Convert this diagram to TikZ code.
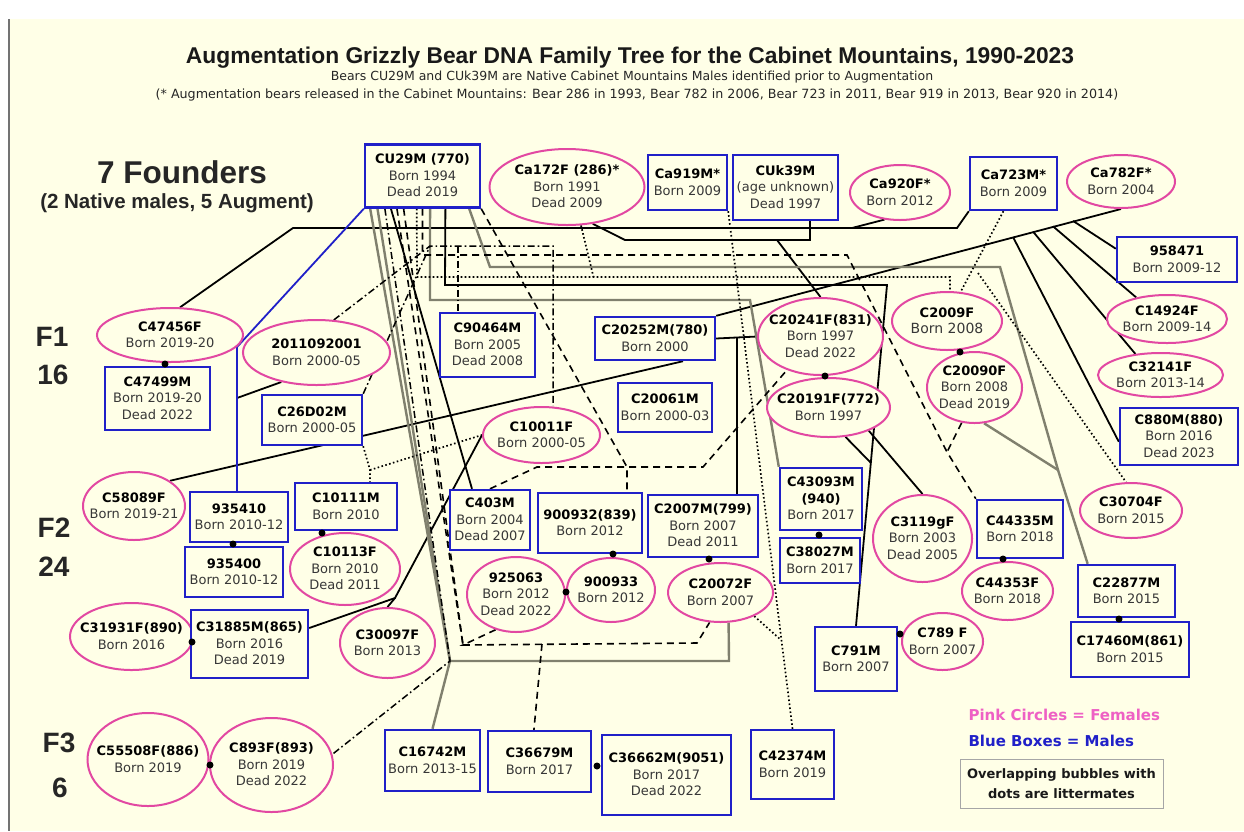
\documentclass[tikz,border=0pt]{standalone}
\usepackage{fontspec}
\setmainfont{DejaVu Sans}
\newfontfamily\arialfont{Liberation Sans}
\usetikzlibrary{shapes.geometric,backgrounds}

\definecolor{cream}{RGB}{255,255,231}
\definecolor{bearpink}{RGB}{226,72,162}
\definecolor{bearblue}{RGB}{32,32,200}
\definecolor{legendpink}{RGB}{238,96,196}
\definecolor{linegray}{RGB}{128,128,110}
\definecolor{txtgray}{RGB}{55,55,55}

% name in bold, then the dates; zero size so the shape keeps its own size
\newcommand{\bear}[2]{\smash{\makebox[0pt]{\raisebox{-4pt}{\begin{tabular}{@{}c@{}}\bfseries\color{black}#1\\#2\end{tabular}}}}}

\tikzset{
  male/.style={rectangle, draw=bearblue, line width=2.4pt, fill=cream, inner sep=0pt, text=txtgray, font=\fontsize{13}{16.5}\selectfont},
  female/.style={ellipse, draw=bearpink, line width=2pt, fill=cream, inner sep=0pt, text=txtgray, font=\fontsize{13}{16.5}\selectfont},
  kin/.style={draw=black, line width=1.8pt},
  kingray/.style={draw=linegray, line width=2.4pt},
  kindash/.style={draw=black, line width=1.6pt, dash pattern=on 7pt off 5pt},
  kindot/.style={draw=black, line width=1.7pt, dash pattern=on 1.6pt off 2.4pt},
  kindashdot/.style={draw=black, line width=1.5pt, dash pattern=on 7pt off 3pt on 1.6pt off 3pt},
  genlabel/.style={font=\arialfont\bfseries\fontsize{28}{30}\selectfont, text=black!85}
}

\begin{document}
\begin{tikzpicture}[x=1pt,y=-1pt]
  \useasboundingbox (0,0) rectangle (1244,831);

  % header
  \node[font=\arialfont\bfseries\fontsize{22.8}{26}\selectfont, text=black!90] (title) at (630,58) {Augmentation Grizzly Bear DNA Family Tree for the Cabinet Mountains, 1990-2023};
  \node[font=\fontsize{12.5}{15}\selectfont, text=black!85] (sub1) at (632,77) {Bears CU29M and CUk39M are Native Cabinet Mountains Males identified prior to Augmentation};
  \node[font=\fontsize{12.7}{15}\selectfont, text=black!85] (sub2) at (637,95) {(* Augmentation bears released in the Cabinet Mountains: Bear 286 in 1993, Bear 782 in 2006, Bear 723 in 2011, Bear 919 in 2013, Bear 920 in 2014)};
  \node[font=\arialfont\bfseries\fontsize{31.5}{33}\selectfont, text=black!85] (founders) at (182,172) {7 Founders};
  \node[font=\arialfont\bfseries\fontsize{20.5}{22}\selectfont, text=black!85] (native) at (177,203) {(2 Native males, 5 Augment)};

  \node[genlabel] (f1) at (52,337) {F1};
  \node[genlabel] (f1n) at (53,375) {16};
  \node[genlabel] (f2) at (54,528) {F2};
  \node[genlabel] (f2n) at (54,567) {24};
  \node[genlabel] (f3) at (59,743) {F3};
  \node[genlabel] (f3n) at (60,788) {6};

  % founders
  \node[male, minimum width=115pt, minimum height=63pt] (cu29m) at (422.5,176) {\bear{CU29M (770)}{Born 1994\\Dead 2019}};
  \node[female, minimum width=155pt, minimum height=76pt] (ca172f) at (567,187) {\bear{Ca172F (286)*}{Born 1991\\Dead 2009}};
  \node[male, minimum width=79pt, minimum height=55pt] (ca919m) at (687.5,182.5) {\bear{Ca919M*}{Born 2009}};
  \node[male, minimum width=105pt, minimum height=65pt] (cuk39m) at (785.5,187.5) {\bear{CUk39M}{(age unknown)\\Dead 1997}};
  \node[female, minimum width=100pt, minimum height=55pt] (ca920f) at (900,192.5) {\bear{Ca920F*}{Born 2012}};
  \node[male, minimum width=87pt, minimum height=53pt] (ca723m) at (1013.5,183.5) {\bear{Ca723M*}{Born 2009}};
  \node[female, minimum width=108pt, minimum height=53pt] (ca782f) at (1121,181.5) {\bear{Ca782F*}{Born 2004}};

  % F1
  \node[female, minimum width=146pt, minimum height=54pt] (c47456f) at (170,335) {\bear{C47456F}{Born 2019-20}};
  \node[male, minimum width=105pt, minimum height=63pt] (c47499m) at (157.5,398.5) {\bear{C47499M}{Born 2019-20\\Dead 2022}};
  \node[female, minimum width=147pt, minimum height=65pt] (n2011092001) at (316.5,352.5) {\bear{2011092001}{Born 2000-05}};
  \node[male, minimum width=100pt, minimum height=50pt] (c26d02m) at (312,420) {\bear{C26D02M}{Born 2000-05}};
  \node[male, minimum width=95pt, minimum height=64pt] (c90464m) at (487.5,345) {\bear{C90464M}{Born 2005\\Dead 2008}};
  \node[female, minimum width=117pt, minimum height=56pt] (c10011f) at (541.5,435) {\bear{C10011F}{Born 2000-05}};
  \node[male, minimum width=120pt, minimum height=43pt] (c20252m) at (655,338.5) {\bear{C20252M(780)}{Born 2000}};
  \node[male, minimum width=94pt, minimum height=49pt] (c20061m) at (665,407.5) {\bear{C20061M}{Born 2000-03}};
  \node[female, minimum width=125pt, minimum height=77pt] (c20241f) at (820.5,336.5) {\bear{C20241F(831)}{Born 1997\\Dead 2022}};
  \node[female, minimum width=123pt, minimum height=59pt] (c20191f) at (828.5,407.5) {\bear{C20191F(772)}{Born 1997}};
  \node[female, minimum width=110pt, minimum height=58pt] (c2009f) at (947,321) {\bear{C2009F}{\fontsize{14}{16.5}\selectfont Born 2008}};
  \node[female, minimum width=95pt, minimum height=71pt] (c20090f) at (974.5,387.5) {\bear{C20090F}{Born 2008\\Dead 2019}};
  \node[male, minimum width=120pt, minimum height=45pt] (n958471) at (1177,259.5) {\bear{958471}{Born 2009-12}};
  \node[female, minimum width=120pt, minimum height=48pt] (c14924f) at (1167,319) {\bear{C14924F}{Born 2009-14}};
  \node[female, minimum width=125pt, minimum height=44pt] (c32141f) at (1160.5,375) {\bear{C32141F}{Born 2013-14}};
  \node[male, minimum width=118pt, minimum height=57pt] (c880m) at (1179,436.5) {\bear{C880M(880)}{Born 2016\\Dead 2023}};

  % F2
  \node[female, minimum width=102pt, minimum height=68pt] (c58089f) at (134,506) {\bear{C58089F}{Born 2019-21}};
  \node[male, minimum width=98pt, minimum height=50pt] (n935410) at (239,517) {\bear{935410}{Born 2010-12}};
  \node[male, minimum width=98pt, minimum height=50pt] (n935400) at (234,572) {\bear{935400}{Born 2010-12}};
  \node[male, minimum width=102pt, minimum height=47pt] (c10111m) at (346,506.5) {\bear{C10111M}{Born 2010}};
  \node[female, minimum width=110pt, minimum height=72pt] (c10113f) at (345,569) {\bear{C10113F}{Born 2010\\Dead 2011}};
  \node[female, minimum width=123pt, minimum height=67pt] (c31931f) at (131.5,636.5) {\bear{C31931F(890)}{Born 2016}};
  \node[male, minimum width=117pt, minimum height=68pt] (c31885m) at (249.5,644) {\bear{C31885M(865)}{Born 2016\\Dead 2019}};
  \node[female, minimum width=95pt, minimum height=70pt] (c30097f) at (387.5,643) {\bear{C30097F}{Born 2013}};
  \node[male, minimum width=80pt, minimum height=60pt] (c403m) at (490,520) {\bear{C403M}{Born 2004\\Dead 2007}};
  \node[male, minimum width=104pt, minimum height=60pt] (n900932) at (590,523) {\bear{900932(839)}{Born 2012}};
  \node[male, minimum width=110pt, minimum height=62pt] (c2007m) at (703,526) {\bear{C2007M(799)}{Born 2007\\Dead 2011}};
  \node[female, minimum width=98pt, minimum height=75pt] (n925063) at (516,594.5) {\bear{925063}{Born 2012\\Dead 2022}};
  \node[female, minimum width=88pt, minimum height=64pt] (n900933) at (611,590) {\bear{900933}{Born 2012}};
  \node[female, minimum width=105pt, minimum height=59pt] (c20072f) at (720.5,592.5) {\bear{C20072F}{Born 2007}};
  \node[male, minimum width=82pt, minimum height=62pt] (c43093m) at (821,499) {\bear{C43093M}{\textbf{\color{black}(940)}\\Born 2017}};
  \node[male, minimum width=80pt, minimum height=45pt] (c38027m) at (820,560.5) {\bear{C38027M}{Born 2017}};
  \node[male, minimum width=82pt, minimum height=64pt] (c791m) at (856,659) {\bear{C791M}{Born 2007}};
  \node[female, minimum width=81pt, minimum height=57pt] (c789f) at (942.5,641.5) {\bear{C789 F}{Born 2007}};
  \node[female, minimum width=99pt, minimum height=87pt] (c3119gf) at (922.5,538.5) {\bear{C3119gF}{Born 2003\\Dead 2005}};
  \node[male, minimum width=86pt, minimum height=58pt] (c44335m) at (1020,529) {\bear{C44335M}{Born 2018}};
  \node[female, minimum width=91pt, minimum height=58pt] (c44353f) at (1007.5,591) {\bear{C44353F}{Born 2018}};
  \node[female, minimum width=102pt, minimum height=55pt] (c30704f) at (1131,510.5) {\bear{C30704F}{Born 2015}};
  \node[male, minimum width=97pt, minimum height=52pt] (c22877m) at (1126.5,591) {\bear{C22877M}{Born 2015}};
  \node[male, minimum width=118pt, minimum height=55pt] (c17460m) at (1130,649.5) {\bear{C17460M(861)}{Born 2015}};

  % F3
  \node[female, minimum width=121pt, minimum height=93pt] (c55508f) at (148,759.5) {\bear{C55508F(886)}{Born 2019}};
  \node[female, minimum width=123pt, minimum height=94pt] (c893f) at (271.5,765) {\bear{C893F(893)}{Born 2019\\Dead 2022}};
  \node[male, minimum width=95pt, minimum height=61pt] (c16742m) at (432.5,760.5) {\bear{C16742M}{Born 2013-15}};
  \node[male, minimum width=103pt, minimum height=61pt] (c36679m) at (539.5,761.5) {\bear{C36679M}{Born 2017}};
  \node[male, minimum width=129pt, minimum height=80pt] (c36662m) at (666.5,775) {\bear{C36662M(9051)}{Born 2017\\Dead 2022}};
  \node[male, minimum width=83pt, minimum height=69pt] (c42374m) at (792.5,764.5) {\bear{C42374M}{Born 2019}};

  % legend
  \node[anchor=west, text=legendpink, font=\bfseries\fontsize{15}{17}\selectfont] (legf) at (965,715) {Pink Circles = Females};
  \node[anchor=west, text=bearblue, font=\bfseries\fontsize{15}{17}\selectfont] (legm) at (965,741) {Blue Boxes = Males};
  \node[draw=black!35, line width=0.8pt, minimum width=203pt, minimum height=49pt, align=center, text=black!90, font=\bfseries\fontsize{13}{20}\selectfont] (legbox) at (1061.5,783.5) {Overlapping bubbles with\\dots are littermates};

  % littermate dots
  \foreach \x/\y in {165/364, 233/544, 322/533, 192/642, 825/376, 960/352, 613/554, 566/592, 709/559, 819/535, 1003/559, 1119/619, 900/634, 210/765, 597/766}
    {\fill (\x,\y) circle (3.5pt);}

  \begin{scope}[on background layer]
    \fill[white] (0,0) rectangle (1244,831);
    \fill[cream] (9,19) rectangle (1244,831);
    \draw[black!55, line width=1.2pt] (9,19) -- (9,831);

    \coordinate (jf1) at (293,228);
    \coordinate (jf2) at (957,228);
    \coordinate (j920) at (852,228);
    \coordinate (jk1) at (625,240);
    \coordinate (jk2) at (810,240);
    \coordinate (jk3) at (777,240);
    \coordinate (jc1) at (445,285);
    \coordinate (jc2) at (887,285);
    \coordinate (j772) at (871,463);
    \coordinate (jg1) at (430,300);
    \coordinate (jg2) at (750,300);
    \coordinate (jh1) at (490,267);
    \coordinate (jh2) at (1000,267);
    \coordinate (jh3) at (1058,470);
    \coordinate (jd1) at (422.5,255);
    \coordinate (jd2) at (847,255);
    \coordinate (jd3) at (947,452);
    \coordinate (jt1) at (417,277);
    \coordinate (jt2) at (950,277);
    \coordinate (jt3) at (593.5,277);
    \coordinate (jb1) at (1073,220.9);
    \coordinate (jb2) at (1053,226.3);
    \coordinate (jb3) at (1033,231.6);
    \coordinate (jb4) at (1013,237);
    \coordinate (jm) at (737,337.5);
    \coordinate (j10011) at (395,598);
    \coordinate (jbl1) at (237,347);
    \coordinate (jbl2) at (237,398);
    \coordinate (jx) at (627,467);
    \coordinate (jy1) at (537,467);
    \coordinate (jy2) at (703,467);
    \coordinate (jz1) at (463,645);
    \coordinate (jz2) at (697,643);
    \coordinate (jz3) at (542,644);
    \coordinate (jq) at (450,661);
    \coordinate (jq2) at (729,661);
    \coordinate (jw1) at (430,246);
    \coordinate (jw2) at (553,246);
    \coordinate (jw3) at (458,246);
    \coordinate (jr1) at (370,470);
    \coordinate (jr2) at (440,448);
    \coordinate (jv1) at (781,640);
    \coordinate (jv2) at (978,273);

    % solid lines
    \draw[kin] (c47456f.70) -- (jf1) -- (jf2) -- (ca723m.south west);
    \draw[kin] (ca920f.240) -- (j920);
    \draw[kin] (ca172f.305) -- (jk1) -- (jk2) -- (jk2 |- cuk39m.south);
    \draw[kin] (jk3) -- (c20241f.north);
    \draw[kin] (ca782f.south) -- (c20252m.north east);
    \draw[kin] (jb1) -- (n958471.170);
    \draw[kin] (jb2) -- (c14924f.145);
    \draw[kin] (jb3) -- (c32141f.140);
    \draw[kin] (jb4) -- (c880m.185);
    \draw[kin] (c20252m.321) -- (c58089f.35);
    \draw[kin] (c20252m.east) -- (c20241f.west);
    \draw[kin] (jm) -- (jm |- c2007m.north);
    \draw[kin] (cu29m.226) -- (c403m.120);
    \draw[kin] (cu29m.305) -- (jc1) -- (jc2) -- (c791m.north);
    \draw[kin] (c20191f.300) -- (j772);
    \draw[kin] (c20191f.330) -- (c3119gf.north);
    \draw[kin] (c10011f.west) -- (j10011) -- (c31885m.15);
    \draw[kin] (c30097f.north) -- (j10011);
    \draw[kin] (n2011092001.220) -- (jbl2);
    \draw[kin, draw=bearblue] (cu29m.south west) -- (jbl1) -- (jbl1 |- n935410.north);

    % gray lines
    \draw[kingray] (cu29m.283) -- (jg1) -- (jg2) -- (c43093m.north west);
    \draw[kingray] (cu29m.325) -- (jh1) -- (jh2) -- (jh3) -- (c22877m.145);
    \draw[kingray] (c20090f.285) -- (jh3);
    \draw[kingray] (cu29m.212) -- (jq) -- (jq2) -- (c20072f.285);
    \draw[kingray] (cu29m.216) -- (jq);
    \draw[kingray] (jq) -- (c16742m.north);

    % dashed lines
    \draw[kindash] (cu29m.south) -- (jd1) -- (jd2) -- (jd3) -- (c44335m.north west);
    \draw[kindash] (c20090f.250) -- (jd3);
    \draw[kindash] (cu29m.south east) -- (jx) -- (jx |- n900932.north);
    \draw[kindash] (c403m.north) -- (jy1) -- (jy2) -- (c20241f.225);
    \draw[kindash] (n925063.240) -- (jz1) -- (jz2) -- (c20072f.250);
    \draw[kindash] (jz3) -- (c36679m.100);
    \draw[kindash] (cu29m.232) -- (jz1);
    \draw[kindash] (cu29m.240) -- (jz1);

    % dotted lines
    \draw[kindot] (ca919m.south east) -- (c42374m.north);
    \draw[kindot] (c20072f.325) -- (jv1);
    \draw[kindot] (cu29m.260) -- (jt1) -- (jt2) -- (jt2 |- c2009f.north);
    \draw[kindot] (ca172f.290) -- (jt3);
    \draw[kindot] (ca723m.250) -- (c2009f.65);
    \draw[kindot] (jv2) -- (c30704f.100);
    \draw[kindot] (c26d02m.south east) -- (jr1) -- (jr1 |- c10111m.north);
    \draw[kindot] (jr1) -- (jr2) -- (c10011f.west);

    % dash-dot lines
    \draw[kindashdot] (n2011092001.62) -- (jw1) -- (jw2) -- (jw2 |- c10011f.north);
    \draw[kindashdot] (jw3) -- (jw3 |- c90464m.north);
    \draw[kindashdot] (c26d02m.north east) -- (jw1);
    \draw[kindashdot] (cu29m.221) -- (jq) -- (c893f.10);
  \end{scope}
\end{tikzpicture}
\end{document}
